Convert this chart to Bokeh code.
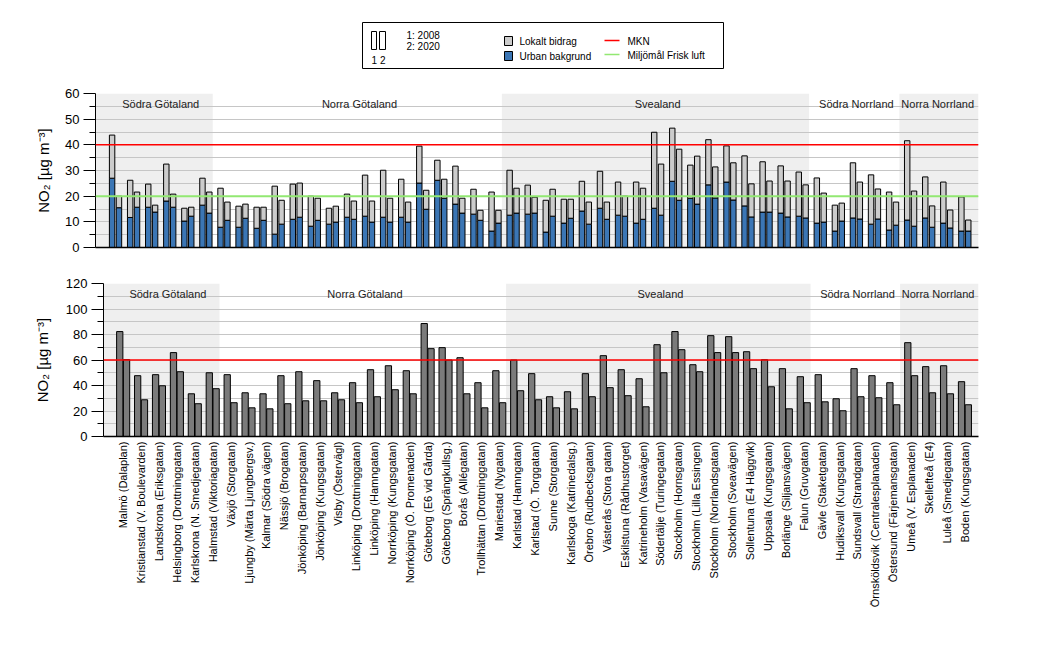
import math
from bokeh.plotting import figure
from bokeh.models import Range1d, FixedTicker, Label, Span
from bokeh.layouts import column
from bokeh.embed import file_html
from bokeh.resources import INLINE
from bokeh.core.properties import value

FONT = "Liberation Sans"

stations = [
    "Malmö (Dalaplan)", "Kristianstad (V. Boulevarden)", "Landskrona (Eriksgatan)",
    "Helsingborg (Drottninggatan)", "Karlskrona (N. Smedjegatan)", "Halmstad (Viktoriagatan)",
    "Växjö (Storgatan)", "Ljungby (Märta Ljungbergsv.)", "Kalmar (Södra vägen)",
    "Nässjö (Brogatan)", "Jönköping (Barnarpsgatan)", "Jönköping (Kungsgatan)",
    "Visby (Östervägl)", "Linköping (Drottninggatan)", "Linköping (Hamngatan)",
    "Norrköping (Kungsgatan)", "Norrköping (Ö. Promenaden)", "Göteborg (E6 vid Gårda)",
    "Göteborg (Sprängkullsg.)", "Borås (Allégatan)", "Trollhättan (Drottninggatan)",
    "Mariestad (Nygatan)", "Karlstad (Hamngatan)", "Karlstad (Ö. Torggatan)",
    "Sunne (Storgatan)", "Karlskoga (Katrinedalsg.)", "Örebro (Rudbecksgatan)",
    "Västerås (Stora gatan)", "Eskilstuna (Rådhustorget)", "Katrineholm (Vasavägen)",
    "Södertälje (Turingegatan)", "Stockholm (Hornsgatan)", "Stockholm (Lilla Essingen)",
    "Stockholm (Norrlandsgatan)", "Stockholm (Sveavägen)", "Sollentuna (E4 Häggvik)",
    "Uppsala (Kungsgatan)", "Borlänge (Siljansvägen)", "Falun (Gruvgatan)",
    "Gävle (Staketgatan)", "Hudiksvall (Kungsgatan)", "Sundsvall (Strandgatan)",
    "Örnsköldsvik (Centralesplanaden)", "Östersund (Färjemansgatan)", "Umeå (V. Esplanaden)",
    "Skellefteå (E4)", "Luleå (Smedjegatan)", "Boden (Kungsgatan)",
]

regions = ["Södra Götaland", "Norra Götaland", "Svealand", "Södra Norrland", "Norra Norrland"]
region_sizes = [6, 16, 17, 5, 4]
region_shaded = [True, False, True, False, True]

# annual mean NO2 (µg/m3): urban background and total (urban + local contribution)
urban_2008 = [27.0, 11.7, 15.7, 18.1, 10.3, 16.5, 7.9, 7.9, 7.5, 5.2, 11.0, 8.3,
              9.1, 11.8, 12.2, 11.8, 11.8, 25.1, 26.2, 16.9, 13.0, 6.4, 12.6, 13.0,
              6.0, 9.5, 14.2, 15.3, 12.6, 9.5, 15.3, 25.8, 19.2, 24.4, 25.5, 16.2,
              13.8, 13.4, 12.2, 9.5, 6.4, 11.5, 9.1, 6.8, 10.7, 11.5, 9.5, 6.4]
total_2008 = [43.8, 26.2, 24.7, 32.5, 15.3, 27.0, 23.1, 16.1, 15.7, 23.9, 24.7, 20.0,
              15.3, 20.8, 28.2, 30.1, 26.6, 39.5, 34.0, 31.7, 22.7, 21.6, 30.1, 24.3,
              18.4, 18.8, 25.8, 29.7, 25.5, 25.5, 44.9, 46.5, 32.1, 42.0, 39.6, 35.7,
              33.4, 31.8, 29.4, 27.1, 16.5, 33.0, 28.3, 21.6, 41.6, 27.5, 25.5, 19.7]
urban_2020 = [15.5, 15.7, 13.8, 15.7, 12.2, 13.4, 10.6, 11.4, 10.6, 9.1, 11.8, 10.6,
              9.9, 11.0, 9.9, 9.9, 9.9, 14.9, 19.2, 13.4, 10.6, 9.5, 13.4, 13.4,
              12.2, 11.4, 9.1, 11.0, 12.2, 11.0, 12.6, 18.4, 16.9, 19.3, 18.5, 11.9,
              13.8, 11.9, 11.5, 9.9, 10.3, 11.1, 11.1, 8.7, 8.3, 7.9, 7.6, 6.4]
total_2020 = [20.0, 21.6, 16.5, 20.8, 15.7, 21.6, 17.7, 16.9, 15.7, 18.4, 25.1, 19.2,
              16.1, 18.1, 18.1, 19.2, 17.7, 22.3, 26.6, 19.2, 14.5, 14.5, 23.1, 19.6,
              22.7, 18.8, 17.7, 17.7, 20.0, 23.1, 32.5, 38.3, 35.6, 31.4, 33.0, 24.8,
              25.9, 25.9, 24.4, 21.2, 17.3, 25.5, 22.8, 17.7, 22.0, 16.2, 14.6, 10.7]

# 98-percentile of daily means
p98_2008 = [82.3, 47.7, 48.5, 65.8, 33.5, 50.0, 48.5, 34.3, 33.5, 47.7, 50.8, 43.8,
            34.3, 42.2, 52.4, 55.5, 51.6, 88.6, 69.7, 61.8, 42.2, 51.6, 60.0, 49.3,
            31.2, 35.1, 49.3, 63.4, 52.4, 45.3, 72.0, 82.3, 56.3, 79.1, 78.3, 66.5,
            60.2, 53.2, 46.9, 48.5, 29.6, 53.2, 47.7, 42.2, 73.6, 54.8, 55.5, 43.0]
p98_2020 = [60.3, 28.8, 39.8, 50.8, 25.7, 37.5, 26.5, 22.5, 21.7, 25.7, 28.0, 28.0,
            28.8, 26.5, 31.2, 36.7, 33.5, 68.9, 60.0, 33.5, 22.5, 26.5, 35.9, 28.8,
            22.5, 21.7, 31.2, 38.3, 32.0, 23.3, 50.0, 68.1, 50.8, 65.8, 65.8, 53.2,
            39.0, 21.7, 26.5, 27.2, 20.2, 31.2, 30.4, 24.9, 47.7, 34.3, 33.5, 24.9]

mkn_annual = 40
miljomal_annual = 20
mkn_p98 = 60

BLUE = "#3b76b5"
LGRAY = "#cccccc"
DGRAY = "#7b7b7b"
SHADE = "#efefef"
GRID = "#c6c6c6"
RED = "#ff0000"
GREEN = "#92e872"

n = len(stations)
xc = [i + 0.5 for i in range(n)]
OFF = 0.19
x08 = [x - OFF for x in xc]
x20 = [x + OFF for x in xc]

# frames: panel a at page x 95..978, panel b (and legend strip) at 103..978
FLA, FLB, FR = 95, 103, 978
# panel a: pair cells start at page x 106, 18.07 px each; panel b: 113.7, 17.91 px
XA0, XA1 = (FLA - 106) / 18.07, (FR - 106) / 18.07
XB0, XB1 = (FLB - 113.7) / 17.91, (FR - 113.7) / 17.91

edges = [0]
for s in region_sizes:
    edges.append(edges[-1] + s)


def style_common(p, ymax, major, minor, grid_step, x0, x1, label_standoff):
    p.outline_line_color = None
    p.xgrid.visible = False
    p.ygrid.ticker = FixedTicker(ticks=list(range(0, ymax + 1, grid_step)))
    p.ygrid.grid_line_color = GRID
    p.ygrid.grid_line_width = 1
    ax = p.yaxis[0]
    ax.ticker = FixedTicker(ticks=list(range(0, ymax + 1, major)),
                            minor_ticks=list(range(minor, ymax, major)))
    ax.major_tick_out = 12
    ax.major_tick_in = 0
    ax.minor_tick_out = 6
    ax.minor_tick_in = 0
    ax.axis_line_color = "black"
    ax.major_tick_line_color = "black"
    ax.minor_tick_line_color = "black"
    ax.major_label_text_font = FONT
    ax.major_label_text_font_size = "13px"
    ax.major_label_text_color = "black"
    ax.major_label_standoff = 4
    ax.axis_label = "NO₂ [µg m⁻³]"
    ax.axis_label_text_font = FONT
    ax.axis_label_text_font_size = "15px"
    ax.axis_label_text_font_style = "normal"
    ax.axis_label_text_color = "black"
    ax.axis_label_standoff = label_standoff
    # shaded regions
    for k, reg in enumerate(regions):
        if region_shaded[k]:
            left = x0 if k == 0 else edges[k] - 0.12
            right = x1 if k == len(regions) - 1 else edges[k + 1] - 0.12
            p.quad(left=left, right=right, bottom=0, top=ymax, fill_color=SHADE,
                   line_color=None, level="image")


def region_labels(p, y):
    for k, reg in enumerate(regions):
        cx = (edges[k] + edges[k + 1]) / 2
        p.add_layout(Label(x=cx, y=y, text=reg, text_align="center", text_baseline="middle",
                           text_font=FONT, text_font_size="11px", text_color="#222222"))


# ---------------- legend strip (coordinates = page pixels) ----------------
leg = figure(width=1057, height=72, x_range=Range1d(FLB, FR), y_range=Range1d(72, 0),
             toolbar_location=None, output_backend="svg", x_axis_type=None, y_axis_type=None,
             min_border=0, min_border_left=FLB, min_border_right=1057 - FR, title=None)
leg.outline_line_color = None
leg.quad(left=[362], right=[723], top=[22], bottom=[68], fill_color=None, line_color="black", line_width=1)
leg.quad(left=[371, 379], right=[376, 385], top=[31, 31], bottom=[49, 49], fill_color="white",
         line_color="black", line_width=1)
leg.text(x=[378], y=[60], text=["1 2"], text_align="center", text_baseline="middle",
         text_font=value(FONT), text_font_size="10px")
leg.text(x=[406, 406], y=[35, 46], text=["1: 2008", "2: 2020"], text_baseline="middle",
         text_font=value(FONT), text_font_size="10px")
leg.quad(left=[504, 504], right=[512, 512], top=[36, 51], bottom=[45, 60],
         fill_color=[LGRAY, BLUE], line_color="black", line_width=1)
leg.text(x=[519, 519], y=[40.5, 55.5], text=["Lokalt bidrag", "Urban bakgrund"], text_baseline="middle",
         text_font=value(FONT), text_font_size="10px")
leg.segment(x0=[604, 604], x1=[619, 619], y0=[40, 54], y1=[40, 54], line_color=[RED, GREEN], line_width=1.5)
leg.text(x=[627, 627], y=[40.5, 54.5], text=["MKN", "Miljömål Frisk luft"], text_baseline="middle",
         text_font=value(FONT), text_font_size="10px")

# ---------------- panel a ----------------
p1 = figure(width=1057, height=190, x_range=Range1d(XA0, XA1), y_range=Range1d(0, 60),
            min_border_left=FLA, min_border_right=1057 - FR, min_border_top=21, min_border_bottom=15,
            toolbar_location=None, output_backend="svg", title=None)
style_common(p1, 60, 10, 5, 5, XA0, XA1, 10)
xa = p1.xaxis[0]
xa.ticker = FixedTicker(ticks=[])
xa.major_tick_out = 0
xa.minor_tick_out = 0
xa.axis_line_color = "black"
xa.axis_line_width = 1.5

BW1 = 0.3
p1.vbar(x=x08, width=BW1, bottom=0, top=urban_2008, fill_color=BLUE, line_color="black", line_width=1)
p1.vbar(x=x08, width=BW1, bottom=urban_2008, top=total_2008, fill_color=LGRAY, line_color="black", line_width=1)
p1.vbar(x=x20, width=BW1, bottom=0, top=urban_2020, fill_color=BLUE, line_color="black", line_width=1)
p1.vbar(x=x20, width=BW1, bottom=urban_2020, top=total_2020, fill_color=LGRAY, line_color="black", line_width=1)
p1.add_layout(Span(location=mkn_annual, dimension="width", line_color=RED, line_width=1.5))
p1.add_layout(Span(location=miljomal_annual, dimension="width", line_color=GREEN, line_width=2))
region_labels(p1, 56.1)
p1.add_layout(Label(x=24.0, y=64.7, text="NO₂ årsmedelvärde", text_align="center", text_baseline="middle",
                    text_font=FONT, text_font_size="12px", text_color="black"))
p1.add_layout(Label(x=(103 - 106) / 18.07, y=65.1, text="a)", text_align="left", text_baseline="middle",
                    text_font=FONT, text_font_size="15px", text_color="black"))

# ---------------- panel b ----------------
p2 = figure(width=1057, height=405, x_range=Range1d(XB0, XB1), y_range=Range1d(0, 120),
            min_border_left=FLB, min_border_right=1057 - FR, min_border_top=21, min_border_bottom=231,
            toolbar_location=None, output_backend="svg", title=None)
style_common(p2, 120, 20, 10, 10, XB0, XB1, 12)
xb = p2.xaxis[0]
xb.ticker = FixedTicker(ticks=xc)
xb.major_label_overrides = {x: s for x, s in zip(xc, stations)}
xb.major_label_orientation = math.pi / 2
xb.major_tick_out = 0
xb.minor_tick_out = 0
xb.major_tick_in = 0
xb.minor_tick_in = 0
xb.axis_line_color = "black"
xb.axis_line_width = 1.5
xb.major_label_text_font = FONT
xb.major_label_text_font_size = "11px"
xb.major_label_text_color = "black"
xb.major_label_standoff = 5

BW2 = 0.35
p2.vbar(x=x08, width=BW2, bottom=0, top=p98_2008, fill_color=DGRAY, line_color="black", line_width=1)
p2.vbar(x=x20, width=BW2, bottom=0, top=p98_2020, fill_color=DGRAY, line_color="black", line_width=1)
p2.add_layout(Span(location=mkn_p98, dimension="width", line_color=RED, line_width=1.5))
region_labels(p2, 111.6)
p2.add_layout(Label(x=23.8, y=130.4, text="NO₂ 98-percentils dygnsmedelvärde", text_align="center",
                    text_baseline="middle", text_font=FONT, text_font_size="12px", text_color="black"))
p2.add_layout(Label(x=-0.11, y=128.1, text="b)", text_align="left", text_baseline="middle",
                    text_font=FONT, text_font_size="15px", text_color="black"))

layout = column(leg, column(p1), p2, spacing=0)
open("out.html", "w").write(file_html(layout, INLINE))
